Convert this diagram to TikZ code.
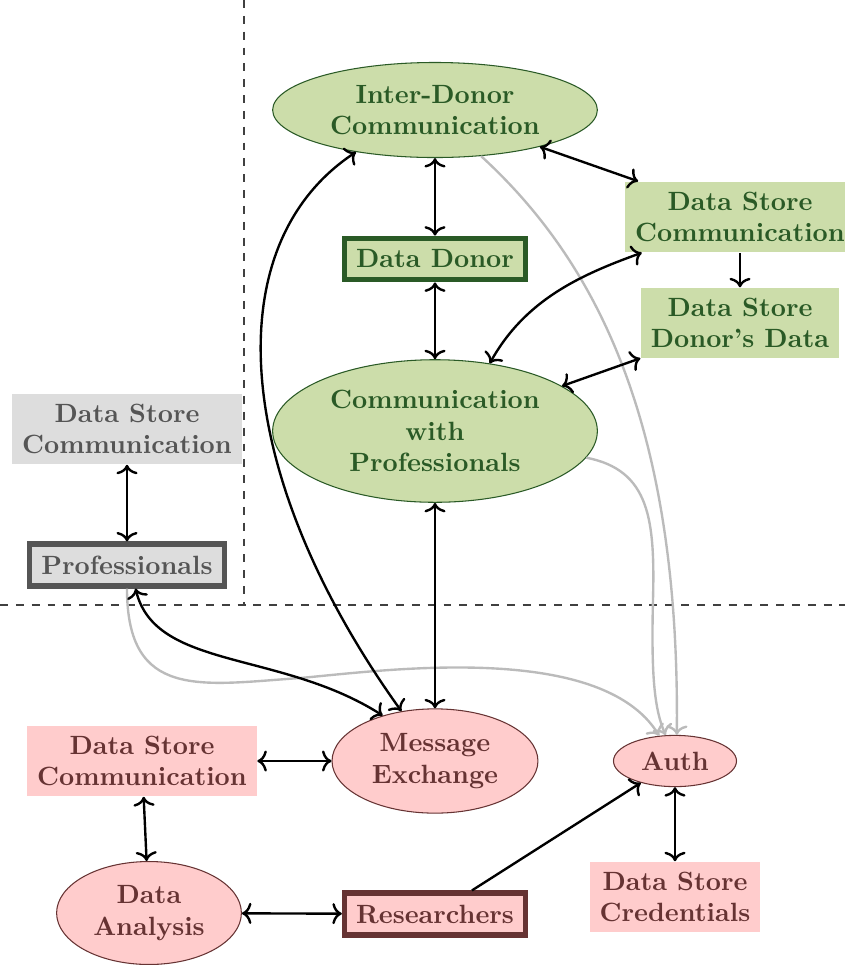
\documentclass[tikz,border=0pt]{standalone}
\usetikzlibrary{shapes.geometric,arrows.meta}

\definecolor{leaf}{HTML}{CCDDAA}
\definecolor{leafink}{HTML}{2A5A26}
\definecolor{rose}{HTML}{FFCCCC}
\definecolor{roseink}{HTML}{663333}
\definecolor{ash}{HTML}{DDDDDD}
\definecolor{ashink}{HTML}{555555}
\definecolor{faint}{HTML}{BBBBBB}

\tikzset{
  every node/.style={font=\bfseries, align=center},
  proc/.style={ellipse, draw, inner sep=0pt},
  store/.style={rectangle, inner sep=3.8pt},
  actor/.style={rectangle, draw, line width=2pt, inner sep=4.4pt},
  donorzone/.style={fill=leaf, text=leafink, draw=leafink},
  studyzone/.style={fill=rose, text=roseink, draw=roseink},
  prozone/.style={fill=ash, text=ashink, draw=ashink},
  tip/.tip={Computer Modern Rightarrow[length=3.6pt,width=8pt]},
  link/.style={line width=0.9pt, black, tip-tip},
  oneway/.style={line width=0.9pt, black, -tip},
  authflow/.style={line width=0.9pt, faint, -tip},
  zoneline/.style={thin, dashed, black!75},
}

\begin{document}
\begin{tikzpicture}[x=0.3788pt, y=-0.3788pt]
\useasboundingbox (0,0) rectangle (845,965);

% zone separators
\draw[zoneline] (244,0) -- (244,605);
\draw[zoneline] (0,605) -- (845,605);

% donor side
\node[proc, donorzone, minimum width=123pt, minimum height=36pt] (idc) at (435,110) {Inter-Donor\\Communication};
\node[actor, donorzone] (donor) at (435,259) {Data Donor};
\node[proc, donorzone, minimum width=123pt, minimum height=54pt] (cwp) at (435,431) {Communication\\with\\Professionals};
\node[store, donorzone, draw=none] (dsc) at (740,217) {Data Store\\Communication};
\node[store, donorzone, draw=none] (dsdd) at (740,323) {Data Store\\Donor's Data};

% professional side
\node[store, prozone, draw=none] (gdsc) at (127,429) {Data Store\\Communication};
\node[actor, prozone] (prof) at (127,565) {Professionals};

% research side
\node[proc, studyzone, minimum width=78pt, minimum height=39.5pt] (me) at (435,761) {Message\\Exchange};
\node[store, studyzone, draw=none] (pdsc) at (142,761) {Data Store\\Communication};
\node[proc, studyzone, minimum width=70pt, minimum height=39pt] (da) at (149,913) {Data\\Analysis};
\node[actor, studyzone] (res) at (435,914) {Researchers};
\node[proc, studyzone, minimum width=46.6pt, minimum height=19.4pt] (auth) at (675,761) {Auth};
\node[store, studyzone, draw=none] (cred) at (675,897) {Data Store\\Credentials};

% authentication flows
\draw[authflow] (idc.-45) .. controls (600,265) and (680,430) .. (auth.86);
\draw[authflow] (cwp.-10) .. controls (650,470) and (655,520) .. (653,600)
                .. controls (651,680) and (655,710) .. (auth.110);
\draw[authflow] (prof.south) .. controls (127,700) and (200,685) .. (300,678)
                .. controls (380,671) and (600,640) .. (auth.122);

% donor side links
\draw[link] (idc) -- (donor);
\draw[link] (donor) -- (cwp);
\draw[link] (idc) -- (dsc);
\draw[oneway] (dsc) -- (dsdd);
\draw[link] (cwp.51) .. controls (525,300) and (580,275) .. (dsc.200);
\draw[link] (cwp) -- (dsdd);
\draw[link] (cwp) -- (me);
\draw[link] (idc.208.6) .. controls (215,245) and (232,475) .. (me.124);

% professional links
\draw[link] (gdsc) -- (prof);
\draw[link] (prof.-70) .. controls (155,670) and (280,650) .. (me.139);

% research side links
\draw[link] (pdsc) -- (me);
\draw[link] (pdsc) -- (da);
\draw[link] (da) -- (res);
\draw[oneway] (res) -- (auth);
\draw[link] (auth) -- (cred);
\end{tikzpicture}
\end{document}
